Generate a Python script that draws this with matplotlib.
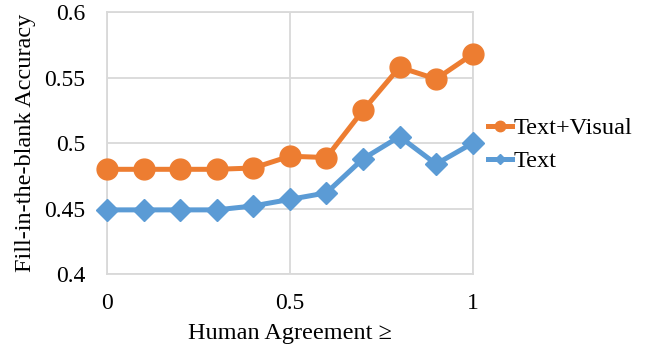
import matplotlib
matplotlib.use("Agg")
import matplotlib.pyplot as plt
from matplotlib.lines import Line2D

thresholds = [0, 0.1, 0.2, 0.3, 0.4, 0.5, 0.6, 0.7, 0.8, 0.9, 1.0]
text_visual = [0.480, 0.480, 0.480, 0.480, 0.481, 0.490, 0.489, 0.525, 0.558, 0.549, 0.568]
text_only = [0.449, 0.449, 0.449, 0.449, 0.452, 0.457, 0.462, 0.488, 0.505, 0.484, 0.500]
x_ticks = [0, 0.5, 1]
x_tick_labels = ["0", "0.5", "1"]
y_ticks = [0.4, 0.45, 0.5, 0.55, 0.6]
y_tick_labels = ["0.4", "0.45", "0.5", "0.55", "0.6"]

plt.rcParams['font.family'] = ['Liberation Serif', 'DejaVu Serif']
orange = '#ED7D31'
blue = '#5B9BD5'
grid_c = '#D9D9D9'

fig = plt.figure(figsize=(6.46, 3.51), dpi=100)
ax = fig.add_axes([0.1656, 0.2194, 0.5661, 0.7456])

ax.plot(thresholds, text_visual, color=orange, lw=3.6, marker='o', ms=15, zorder=3, label='Text+Visual')
ax.plot(thresholds, text_only, color=blue, lw=3.6, marker='D', ms=11, zorder=3, label='Text')

ax.set_xlim(0, 1)
ax.set_ylim(0.4, 0.6)
ax.set_xticks(x_ticks)
ax.set_xticklabels(x_tick_labels)
ax.set_yticks(y_ticks)
ax.set_yticklabels(y_tick_labels)
ax.tick_params(length=0, labelsize=17, colors='#000000')
ax.tick_params(axis='x', pad=14)
ax.tick_params(axis='y', pad=15.5)
ax.grid(True, color=grid_c, lw=1.3)
ax.set_axisbelow(True)
for s in ax.spines.values():
    s.set_color(grid_c)
    s.set_linewidth(1.3)
for l in ax.lines:
    l.set_clip_on(False)

ax.set_xlabel('Human Agreement ≥', fontsize=17.5, labelpad=6)
ax.set_ylabel('Fill-in-the-blank Accuracy', fontsize=17.5, labelpad=6)

handles = [Line2D([], [], color=orange, lw=3.6, marker='o', ms=7.5),
           Line2D([], [], color=blue, lw=3.6, marker='D', ms=5.5)]
fig.legend(handles, ['Text+Visual', 'Text'], loc='center left',
           bbox_to_anchor=(0.721, 0.587), frameon=False, fontsize=17.5,
           handlelength=1.0, handletextpad=0.08, labelspacing=0.45)

fig.savefig('out.png', dpi=100)
